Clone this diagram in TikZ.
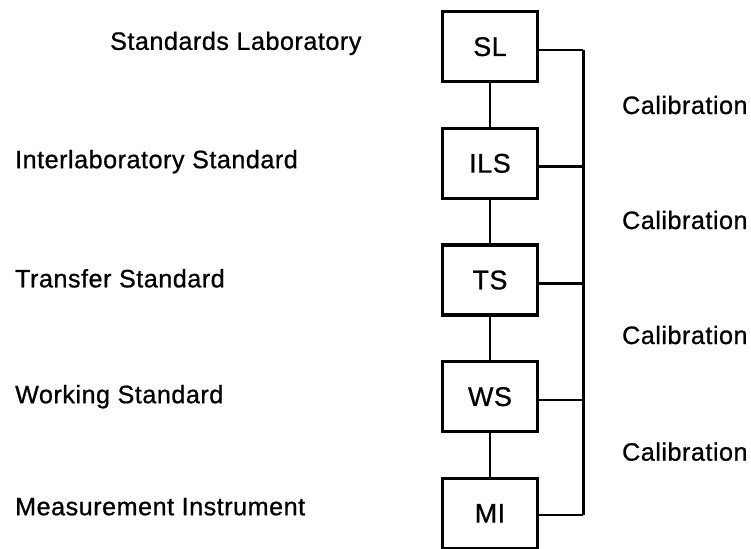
\documentclass[tikz,border=0pt]{standalone}
\usepackage{fontspec}
\setmainfont{Liberation Sans}
\newfontfamily\scansans[LetterSpace=2,FakeBold=0.8]{Liberation Sans}
\usetikzlibrary{positioning}

\begin{document}
\begin{tikzpicture}[
    lvl/.style={rectangle, draw, line width=3pt, minimum width=2.85cm,
                minimum height=2.1cm, align=center, font=\scansans\fontsize{23}{26}\selectfont},
    lbl/.style={anchor=west, font=\scansans\fontsize{21.5}{25}\selectfont},
    cal/.style={anchor=west, font=\scansans\fontsize{21.5}{25}\selectfont},
    wire/.style={line width=2.2pt}
  ]
    \useasboundingbox (0,0) rectangle (22.53,-16.44);

    % Chain of standards
    \node[lvl] (sl)  at (14.7,-1.4)  {SL};
    \node[lvl] (ils) at (14.7,-4.9)  {ILS};
    \node[lvl] (ts)  at (14.7,-8.4)  {TS};
    \node[lvl] (ws)  at (14.7,-11.9) {WS};
    \node[lvl] (mi)  at (14.7,-15.4) {MI};

    % Left-hand names
    \node[lbl] (nsl)  at (3.18,-1.3)   {Standards Laboratory};
    \node[lbl] (nils) at (0.33,-4.85)  {Interlaboratory Standard};
    \node[lbl] (nts)  at (0.33,-8.35)  {Transfer Standard};
    \node[lbl] (nws)  at (0.33,-11.9)  {Working Standard};
    \node[lbl] (nmi)  at (0.33,-15.2)  {Measurement Instrument};

    % Calibration bus
    \coordinate (b1) at (17.5,-1.5);
    \coordinate (b2) at (17.5,-5.0);
    \coordinate (b3) at (17.5,-8.5);
    \coordinate (b4) at (17.5,-12.0);
    \coordinate (b5) at (17.5,-15.45);

    \draw[wire] (sl.south) -- (ils.north);
    \draw[wire] (ils.south) -- (ts.north);
    \draw[wire] (ts.south) -- (ws.north);
    \draw[wire] (ws.south) -- (mi.north);

    \draw[wire] (sl.east |- b1) -- (b1);
    \draw[wire] (ils.east |- b2) -- (b2);
    \draw[wire] (ts.east |- b3) -- (b3);
    \draw[wire] (ws.east |- b4) -- (b4);
    \draw[wire] (mi.east |- b5) -- (b5);
    \draw[wire] (b1) -- (b5);

    \node[cal] (c1) at (18.54,-3.15) {Calibration};
    \node[cal] (c2) at (18.54,-6.6)  {Calibration};
    \node[cal] (c3) at (18.54,-10.05) {Calibration};
    \node[cal] (c4) at (18.54,-13.55) {Calibration};
  \end{tikzpicture}
\end{document}
